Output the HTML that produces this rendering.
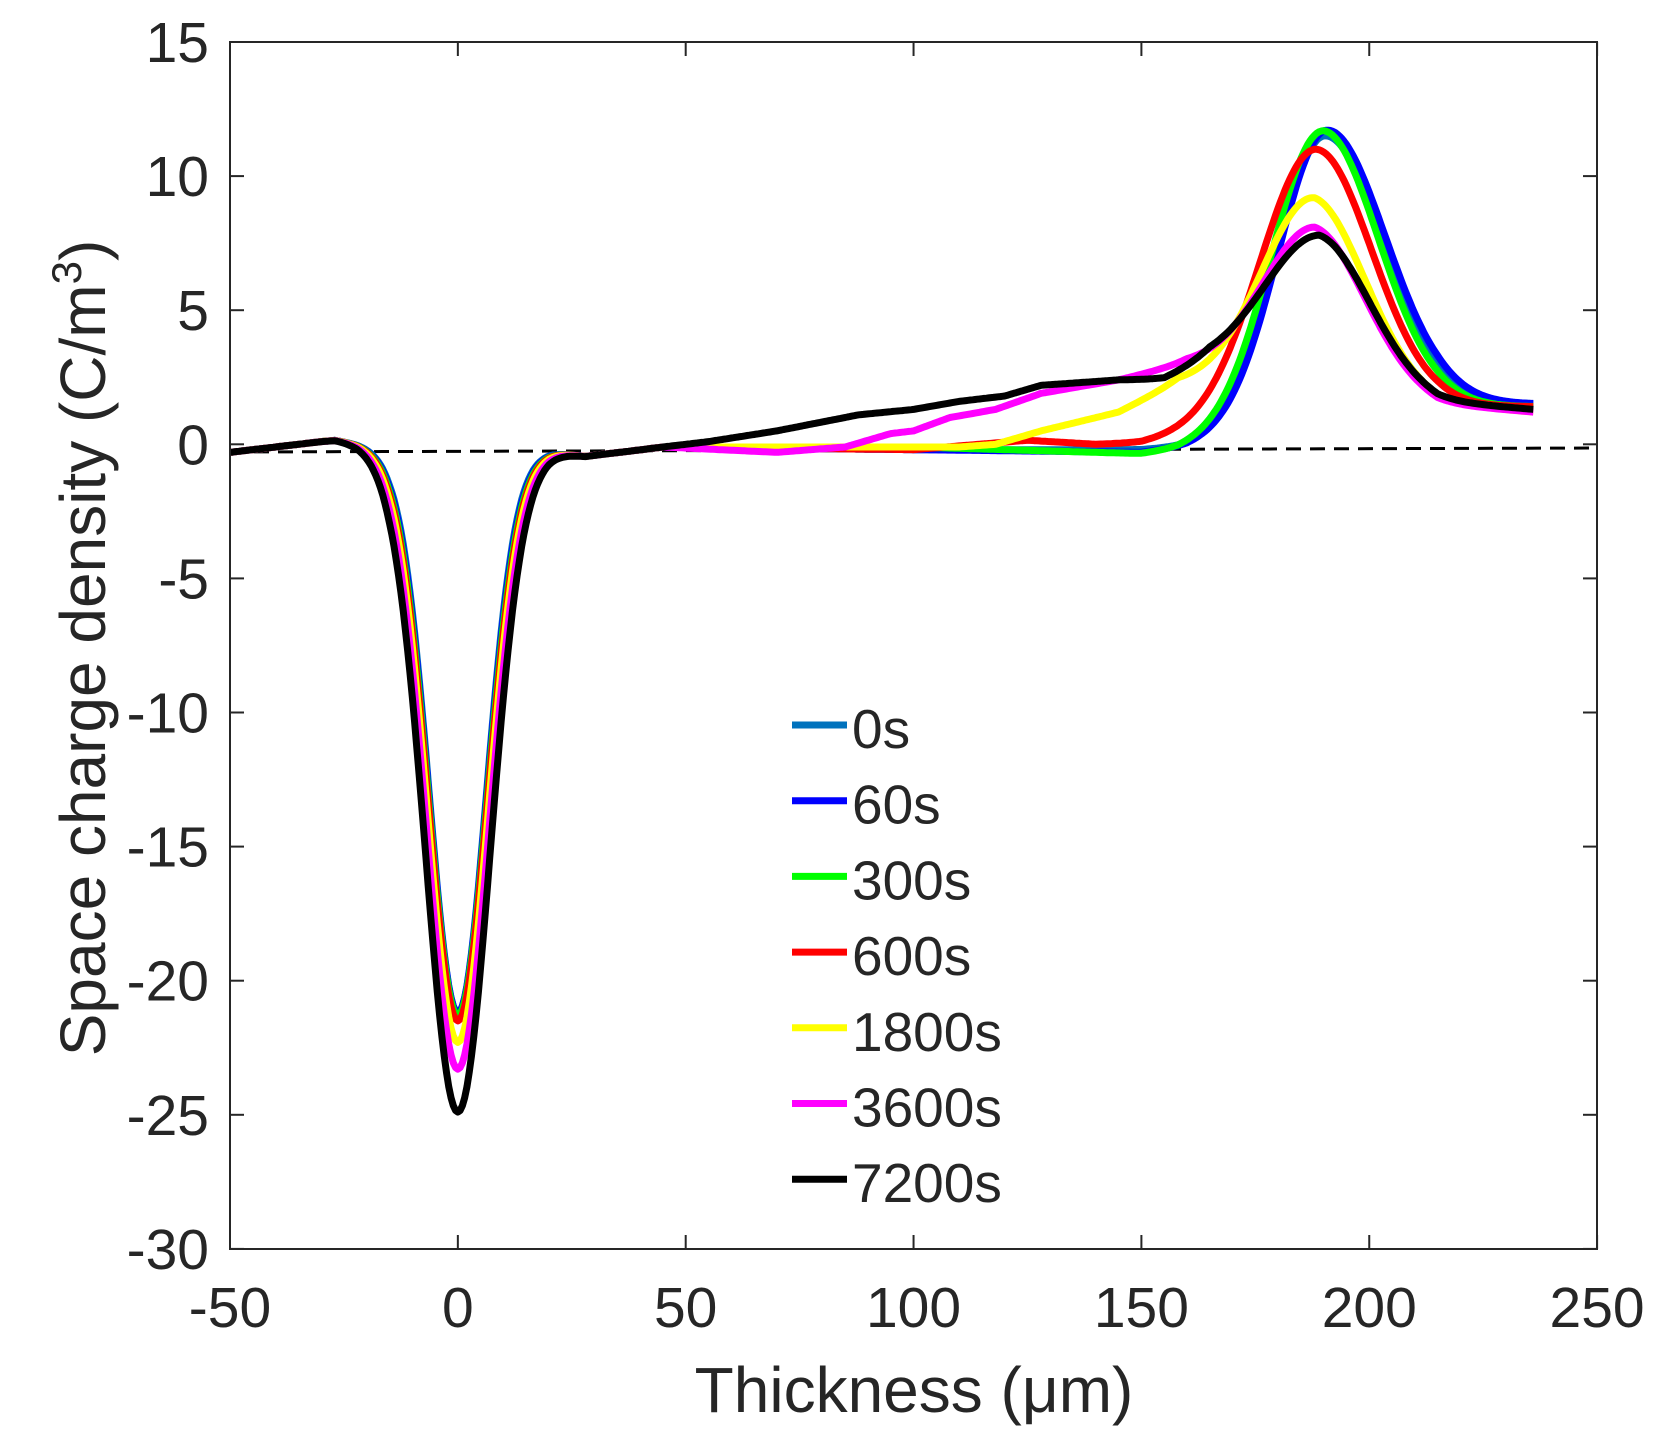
<!DOCTYPE html>
<html><head><meta charset="utf-8"><style>
html,body{margin:0;padding:0;background:#fff;}
svg text{font-family:"Liberation Sans",Arial,sans-serif;fill:#262626;}
</style></head><body>
<svg id="s" xmlns="http://www.w3.org/2000/svg" width="1662" height="1442" viewBox="0 0 1662 1442">
<rect width="1662" height="1442" fill="#fff"/>
<g id="curves"></g>
<rect x="230" y="42" width="1367" height="1207" fill="none" stroke="#262626" stroke-width="2"/>
<g id="ticks" stroke="#262626" stroke-width="2"></g>
<g id="labels" font-size="57"></g>
<text x="914" y="1412" font-size="64" text-anchor="middle">Thickness (μm)</text>
<text transform="translate(105,648) rotate(-90)" font-size="64" text-anchor="middle">Space charge density (C/m<tspan dy="-24" font-size="42">3</tspan><tspan dy="24">)</tspan></text>
<g id="legend"></g>
</svg>
<script>
const NS="http://www.w3.org/2000/svg";
const px=x=>230+(x+50)*4.557, py=y=>42+(15-y)*26.82;
function el(t,a,p){const e=document.createElementNS(NS,t);for(const k in a)e.setAttribute(k,a[k]);p.appendChild(e);return e;}
const T=document.getElementById('ticks'),L=document.getElementById('labels');
for(let x=-50;x<=250;x+=50){const X=px(x);el('line',{x1:X,y1:1249,x2:X,y2:1235},T);el('line',{x1:X,y1:42,x2:X,y2:56},T);
 const t=el('text',{x:X,y:1327,'text-anchor':'middle'},L);t.textContent=x;}
for(let y=-30;y<=15;y+=5){const Y=py(y);el('line',{x1:230,y1:Y,x2:244,y2:Y},T);el('line',{x1:1597,y1:Y,x2:1583,y2:Y},T);
 const t=el('text',{x:209,y:Y+20,'text-anchor':'end'},L);t.textContent=y;}
const C=document.getElementById('curves');
el('line',{x1:230,y1:452,x2:1597,y2:448,stroke:'#000','stroke-width':3,'stroke-dasharray':'15 9'},C);
function interp(pts,x){if(x<=pts[0][0])return pts[0][1];for(let i=1;i<pts.length;i++){if(x<=pts[i][0]){const a=pts[i-1],b=pts[i];return a[1]+(b[1]-a[1])*(x-a[0])/(b[0]-a[0]);}}return pts[pts.length-1][1];}
const left=[[-50,-0.3],[-40,-0.1],[-30,0.1],[-27,0.15],[-22,0],[-15,-0.3],[20,-0.3],[28,-0.45],[38,-0.25],[45,-0.1]];
const S=[
 {c:'#0072BD',D:20.9,s:6.3,base:[[45,-0.1],[100,-0.2],[150,-0.2],[160,-0.1],[190,1.0],[215,1.5],[236,1.5]],P:10.5,pc:190,sl:10.5,sr:13},
 {c:'#0000ff',D:20.9,s:6.4,base:[[45,-0.1],[100,-0.2],[150,-0.3],[160,-0.1],[190,1.0],[215,1.5],[236,1.5]],P:10.7,pc:190.5,sl:10.5,sr:13},
 {c:'#00ff00',D:21,s:6.5,base:[[45,-0.1],[100,-0.1],[150,-0.35],[158,-0.2],[190,1.0],[215,1.4],[236,1.4]],P:10.7,pc:189.5,sl:11,sr:12.5},
 {c:'#ff0000',D:21.2,s:6.6,base:[[45,-0.1],[100,-0.2],[125,0.15],[140,0],[150,0.05],[188,1.1],[215,1.4],[236,1.4]],P:9.9,pc:188,sl:12,sr:12.5},
 {c:'#ffff00',D:22,s:6.7,base:[[45,-0.1],[110,-0.1],[118,0],[128,0.5],[145,1.2],[158,2.3],[188,2.6],[215,1.5],[236,1.2]],P:6.6,pc:187.5,sl:11,sr:11.5},
 {c:'#ff00ff',D:23,s:6.9,base:[[45,-0.1],[70,-0.3],[85,-0.1],[95,0.4],[100,0.5],[108,1],[118,1.3],[128,1.9],[145,2.4],[160,3],[188,3.1],[215,1.5],[236,1.2]],P:5.0,pc:188,sl:11,sr:11},
 {c:'#000000',D:24.6,s:7.1,base:[[45,-0.1],[55,0.1],[70,0.5],[88,1.1],[100,1.3],[110,1.6],[120,1.8],[128,2.2],[145,2.4],[155,2.4],[165,3.0],[189,3.1],[215,1.6],[236,1.3]],P:4.7,pc:189,sl:12,sr:11}
];
S.forEach(o=>{let d='';for(let x=-50;x<=236;x+=0.5){
 const dip=-o.D*Math.exp(-x*x/(2*o.s*o.s));
 const b=x<45?interp(left,x):interp(o.base,x);
 const s=x<o.pc?o.sl:o.sr;const pk=o.P*Math.exp(-(x-o.pc)*(x-o.pc)/(2*s*s));
 const y=dip+b+pk;
 d+=(d?'L':'M')+px(x).toFixed(1)+' '+py(y).toFixed(1);}
 el('path',{d:d,fill:'none',stroke:o.c,'stroke-width':7,'stroke-linejoin':'round'},C);});
const G=document.getElementById('legend');const names=['0s','60s','300s','600s','1800s','3600s','7200s'];
S.forEach((o,i)=>{const Y=725+i*75.7;el('line',{x1:792,y1:Y,x2:847,y2:Y,stroke:o.c,'stroke-width':7},G);
 const t=el('text',{x:852,y:Y+23,'font-size':55},G);t.textContent=names[i];});
</script>
</body></html>
